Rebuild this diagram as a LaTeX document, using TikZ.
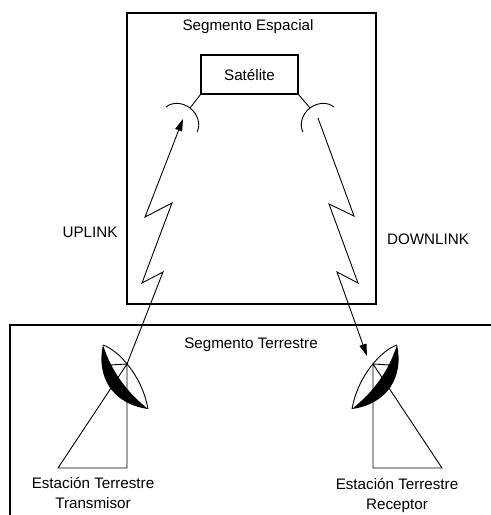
\documentclass[tikz,border=0pt]{standalone}
\usepackage{fontspec}
\setmainfont{Liberation Sans}
\usetikzlibrary{arrows.meta}

\begin{document}
\begin{tikzpicture}[
		x=0.5pt, y=-0.5pt,
		every node/.style={align=center, font=\fontsize{7.6}{10}\selectfont},
		frame/.style={draw, line width=0.7pt},
		thin line/.style={line width=0.45pt},
		link/.style={thin line, -{Triangle[length=6pt,width=3.6pt]}}
		]
		\useasboundingbox (0,0) rectangle (491,515);
		
		% Space segment with the satellite
		\node[frame, minimum width=124.5pt, minimum height=145.5pt] (espacial) at (251.5,158.5) {};
		\node (espacialtxt) at (248,27) {Segmento Espacial};
		\node[frame, line width=0.6pt, minimum width=48.5pt, minimum height=19.5pt] (sat) at (249.5,74.5) {Satélite};
		
		% Satellite antennas
		\coordinate (antL) at (190,108);
		\coordinate (antR) at (310,108);
		\draw[thin line] (sat.south west) -- (antL);
		\draw[thin line] (antL) .. controls (182,102) and (172,102) .. (166,107);
		\draw[thin line] (antL) .. controls (198,114) and (201,125) .. (197,132);
		\draw[thin line] (sat.south east) -- (antR);
		\draw[thin line] (antR) .. controls (318,102) and (328,102) .. (334,107);
		\draw[thin line] (antR) .. controls (302,114) and (299,125) .. (303,132);
		
		% Ground segment
		\coordinate (tierraNE) at (491,325);
		\coordinate (tierraNW) at (10,325);
		\coordinate (tierraSW) at (10,515);
		\draw[frame] (tierraNE) -- (tierraNW) -- (tierraSW);
		\node (terrestretxt) at (251,345) {Segmento Terrestre};
		
		% Earth stations
		\coordinate (txfoco) at (127,364);
		\coordinate (rxfoco) at (373,364);
		\foreach \f/\s in {txfoco/1, rxfoco/-1} {
			\begin{scope}[shift={(\f)}, xscale=\s]
				\fill (-24,-19) .. controls (-31,12) and (-15,40) .. (21,45)
					.. controls (1,29) and (-15,9) .. cycle;
				\draw[thin line] (-24,-19) .. controls (-9,-14) and (15,11) .. (21,45);
				\draw[thin line] (0,0) -- (-17,1);
				\draw[thin line] (0,0) -- (-69,104) -- (0,104) -- cycle;
			\end{scope}
		}
		\node (tx) at (93,493) {Estación Terrestre\\Transmisor};
		\node (rx) at (397,495) {Estación Terrestre\\Receptor};
		
		% Links
		\coordinate (upfin) at (183,119);
		\coordinate (downini) at (318,118);
		\coordinate (downfin) at (367,356);
		\draw[link] (txfoco) -- (163,272) -- (142,283) -- (172,203) -- (145,217) -- (upfin);
		\draw[link] (downini) -- (354,216) -- (329,204) -- (358,283) -- (337,272) -- (downfin);
		\node (uplink) at (90,232) {UPLINK};
		\node (downlink) at (428,239) {DOWNLINK};
		
	\end{tikzpicture}
\end{document}
